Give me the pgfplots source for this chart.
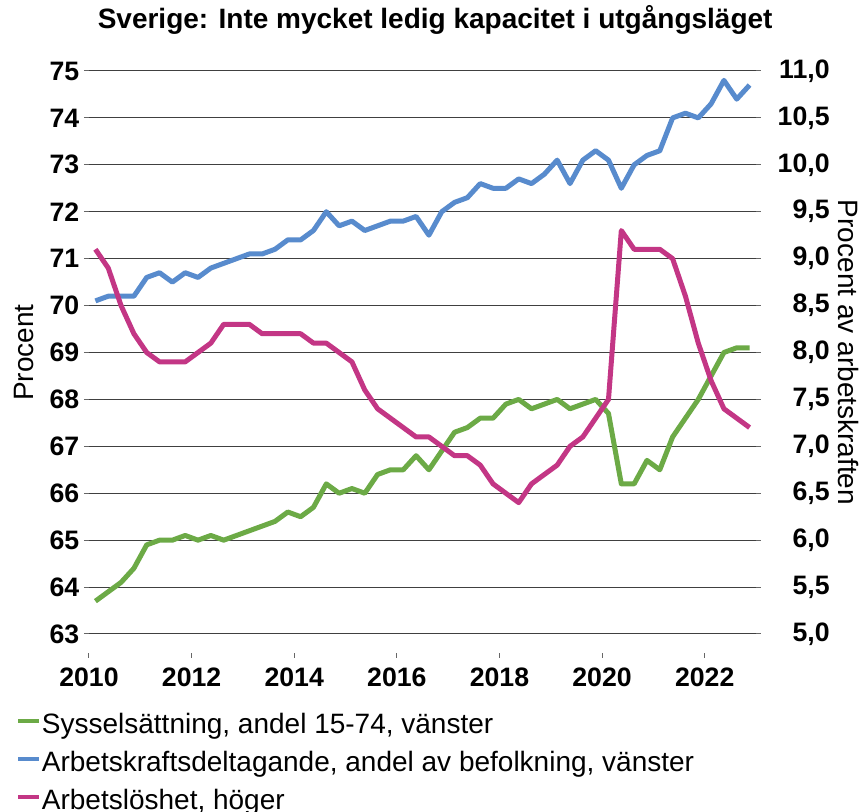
\documentclass[border=0pt]{standalone}
\usepackage{fontspec}
\setmainfont{Liberation Sans}
\usepackage{pgfplots}
\pgfplotsset{compat=1.18}
\definecolor{cgreen}{RGB}{108,170,70}
\definecolor{cblue}{RGB}{88,139,205}
\definecolor{cmag}{RGB}{195,54,133}
\pgfplotstableread{
i green blue mag
0 63.7 70.1 9.1
1 63.9 70.2 8.9
2 64.1 70.2 8.5
3 64.4 70.2 8.2
4 64.9 70.6 8.0
5 65.0 70.7 7.9
6 65.0 70.5 7.9
7 65.1 70.7 7.9
8 65.0 70.6 8.0
9 65.1 70.8 8.1
10 65.0 70.9 8.3
11 65.1 71.0 8.3
12 65.2 71.1 8.3
13 65.3 71.1 8.2
14 65.4 71.2 8.2
15 65.6 71.4 8.2
16 65.5 71.4 8.2
17 65.7 71.6 8.1
18 66.2 72.0 8.1
19 66.0 71.7 8.0
20 66.1 71.8 7.9
21 66.0 71.6 7.6
22 66.4 71.7 7.4
23 66.5 71.8 7.3
24 66.5 71.8 7.2
25 66.8 71.9 7.1
26 66.5 71.5 7.1
27 66.9 72.0 7.0
28 67.3 72.2 6.9
29 67.4 72.3 6.9
30 67.6 72.6 6.8
31 67.6 72.5 6.6
32 67.9 72.5 6.5
33 68.0 72.7 6.4
34 67.8 72.6 6.6
35 67.9 72.8 6.7
36 68.0 73.1 6.8
37 67.8 72.6 7.0
38 67.9 73.1 7.1
39 68.0 73.3 7.3
40 67.7 73.1 7.5
41 66.2 72.5 9.3
42 66.2 73.0 9.1
43 66.7 73.2 9.1
44 66.5 73.3 9.1
45 67.2 74.0 9.0
46 67.6 74.1 8.6
47 68.0 74.0 8.1
48 68.5 74.3 7.7
49 69.0 74.8 7.4
50 69.1 74.4 7.3
51 69.1 74.7 7.2
}\data
\begin{document}
\begin{tikzpicture}
\path[use as bounding box] (-66.75pt,-133.5pt) rectangle (581.25pt,475.5pt);
\pgfplotsset{
  base/.style={
    at={(0,0)}, anchor=south west, scale only axis,
    width=500.25pt, height=422.25pt,
    xmin=-0.5, xmax=51.5,
    /pgf/number format/assume math mode=true,
    tick label style={font=\fontsize{20}{24}\selectfont\bfseries},
    tick align=outside, major tick length=3.75pt,
    tick style={black!60, line width=0.75pt},
    axis line style={draw=none},
    clip=false,
  },
  ser/.style={line width=3.75pt, line join=round},
}
\begin{axis}[base,
  ymin=63, ymax=75, ytick={63,64,...,75}, ytick pos=left,
  xtick={-0.5,7.5,15.5,23.5,31.5,39.5,47.5},
  xticklabels={2010,2012,2014,2016,2018,2020,2022},
  xtick pos=bottom,
  xtick style={yshift=-14.25pt},
  xticklabel style={yshift=-18.5pt},
  ymajorgrids, major grid style={black!75, line width=0.75pt},
  ylabel={Procent},
  every axis y label/.style={at={(axis description cs:-0.0975,0.5)}, rotate=90, anchor=center, font=\fontsize{21}{25}\selectfont},
  title={Sverige: Inte mycket ledig kapacitet i utgångsläget},
  title style={font=\fontsize{21}{25}\selectfont\bfseries, at={(axis description cs:0.519,1)}, anchor=center, yshift=32.25pt},
]
\addplot[ser, cgreen] table[x=i, y=green] {\data};
\addplot[ser, cblue] table[x=i, y=blue] {\data};
\end{axis}
\begin{axis}[base,
  ymin=5, ymax=11, ytick={5,5.5,...,11},
  axis y line*=right, axis x line=none,
  /pgf/number format/use comma, /pgf/number format/fixed,
  /pgf/number format/fixed zerofill, /pgf/number format/precision=1,
  yticklabel style={anchor=east, xshift=55pt},
  ylabel={Procent av arbetskraften},
  every axis y label/.style={at={(axis description cs:1.138,0.5)}, rotate=-90, anchor=center, font=\fontsize{21}{25}\selectfont},
  legend style={at={(axis description cs:0,0)}, anchor=north west, xshift=-54.75pt, yshift=-55.25pt,
    draw=none, fill=none, inner sep=0pt,
    font=\fontsize{21}{25}\selectfont, nodes={inner sep=0.5pt, text height=19pt, text depth=8.5pt}},
  legend cell align=left,
  legend image code/.code={\draw[#1, line width=3pt] (0pt,4.5pt) -- (15.75pt,4.5pt);},
]
\addlegendimage{cgreen}
\addlegendentry{Sysselsättning, andel 15-74, vänster}
\addlegendimage{cblue}
\addlegendentry{Arbetskraftsdeltagande, andel av befolkning, vänster}
\addplot[ser, cmag] table[x=i, y=mag] {\data};
\addlegendentry{Arbetslöshet, höger}
\end{axis}
\end{tikzpicture}
\end{document}
